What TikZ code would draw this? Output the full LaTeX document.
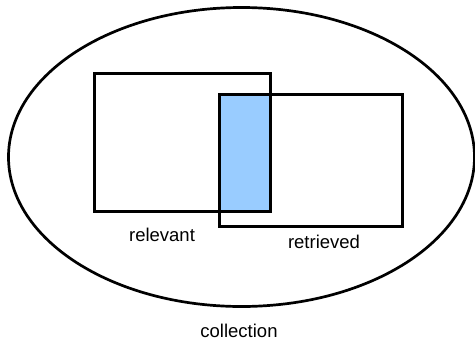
\documentclass[tikz,border=0pt]{standalone}
\usepackage{fontspec}
\setmainfont{Liberation Sans}
\usetikzlibrary{shapes.geometric, positioning, backgrounds}

\definecolor{overlapblue}{RGB}{153,204,255}

\begin{document}
\begin{tikzpicture}[
    x=1pt, y=-1pt,
    setbox/.style={rectangle, draw=black, line width=3pt, inner sep=0pt},
    caption/.style={font=\fontsize{18.5}{20}\selectfont, inner sep=0pt}
]
\useasboundingbox (0,0) rectangle (475,341);

\node[ellipse, draw=black, line width=2.7pt, inner sep=0pt,
      minimum width=466pt, minimum height=299pt] (coll) at (241.5,157) {};

\node[setbox, minimum width=175.7pt, minimum height=138pt] (relevant) at (182.8,142) {};
\node[setbox, minimum width=183.3pt, minimum height=132.2pt] (retrieved) at (311.3,160.6) {};

% overlap of the two sets
\begin{scope}[on background layer]
\fill[overlapblue] (retrieved.north west) rectangle (relevant.south east);
\end{scope}

\node[caption] (relevantlbl) at (162,235) {relevant};
\node[caption] (retrievedlbl) at (324,242) {retrieved};
\node[caption] (colllbl) at (239,330.5) {collection};

\end{tikzpicture}
\end{document}
